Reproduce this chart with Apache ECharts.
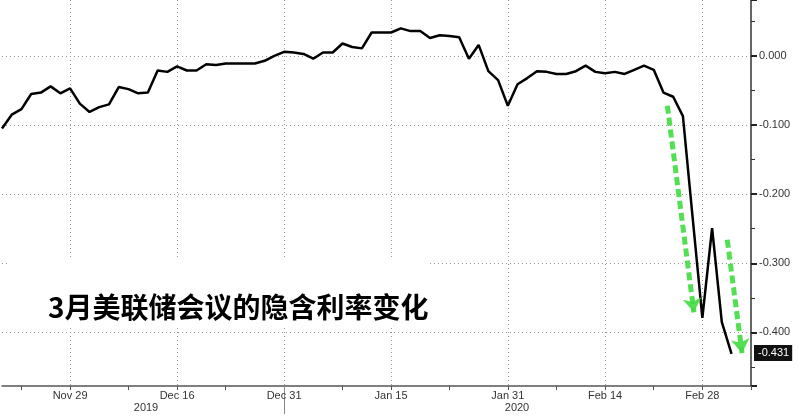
<!DOCTYPE html>
<html>
<head>
<meta charset="utf-8">
<script src="https://cdn.jsdelivr.net/npm/echarts@6/dist/echarts.min.js"></script>
<style>
html,body{margin:0;padding:0;background:#fff;}
#chart{width:800px;height:416px;}
</style>
</head>
<body>
<div id="chart"></div>
<script>
// Weekday categories (Nov 20, 2019 – Mar 6, 2020)
const dates = [
  "Nov 20","Nov 21","Nov 22","Nov 25","Nov 26","Nov 27","Nov 28","Nov 29",
  "Dec 2","Dec 3","Dec 4","Dec 5","Dec 6","Dec 9","Dec 10","Dec 11","Dec 12","Dec 13",
  "Dec 16","Dec 17","Dec 18","Dec 19","Dec 20","Dec 23","Dec 24","Dec 25","Dec 26","Dec 27",
  "Dec 30","Dec 31",
  "Jan 1","Jan 2","Jan 3","Jan 6","Jan 7","Jan 8","Jan 9","Jan 10","Jan 13","Jan 14","Jan 15",
  "Jan 16","Jan 17","Jan 20","Jan 21","Jan 22","Jan 23","Jan 24","Jan 27","Jan 28","Jan 29",
  "Jan 30","Jan 31",
  "Feb 3","Feb 4","Feb 5","Feb 6","Feb 7","Feb 10","Feb 11","Feb 12","Feb 13","Feb 14",
  "Feb 17","Feb 18","Feb 19","Feb 20","Feb 21","Feb 24","Feb 25","Feb 26","Feb 27","Feb 28",
  "Mar 2","Mar 3","Mar 4","Mar 5","Mar 6"
];

// Implied rate change for the March FOMC meeting
const impliedChange = [
  -0.105,-0.085,-0.077,-0.055,-0.053,-0.044,-0.054,-0.047,
  -0.069,-0.081,-0.074,-0.070,-0.045,-0.048,-0.054,-0.053,-0.021,-0.023,
  -0.015,-0.021,-0.021,-0.012,-0.013,-0.011,-0.011,-0.011,-0.011,-0.007,
  0.000,0.006,
  0.005,0.003,-0.004,0.005,0.005,0.018,0.013,0.011,0.034,0.034,0.034,
  0.040,0.036,0.036,0.026,0.030,0.029,0.027,-0.004,0.016,-0.022,
  -0.035,-0.072,
  -0.041,-0.032,-0.022,-0.023,-0.026,-0.026,-0.022,-0.014,-0.023,-0.025,
  -0.023,-0.026,-0.020,-0.014,-0.020,-0.053,-0.059,-0.087,-0.234,-0.379,
  -0.249,-0.385,-0.431,null,null
];

// Axis labels / ticks
const labelDates = ["Nov 29","Dec 16","Dec 31","Jan 15","Jan 31","Feb 14","Feb 28"];
const tickDates = ["Nov 22","Nov 29","Dec 9","Dec 16","Dec 23","Dec 31","Jan 8","Jan 15",
  "Jan 23","Jan 31","Feb 7","Feb 14","Feb 21","Feb 28","Mar 6"];
const yearBreakDate = "Dec 31";
const yearLabels = ["2019","2020"];

// Green annotation arrows: [start index, start value], [end index, end value]
const arrow1 = [[68.4,-0.072],[71.13,-0.371]];
const arrow2 = [[74.56,-0.266],[76.08,-0.430]];

const lastValue = impliedChange.filter(v => v !== null).slice(-1)[0];

const chart = echarts.init(document.getElementById('chart'), null, {renderer:'canvas'});
const font = '"Liberation Sans", Arial, sans-serif';

chart.setOption({
  animation:false,
  backgroundColor:'#ffffff',
  grid:{left:2,right:49,top:0,bottom:30},
  xAxis:[
    {
      type:'category', data:dates, boundaryGap:false, position:'bottom',
      axisLine:{show:true,onZero:false,lineStyle:{color:'#555',width:1.5}},
      axisTick:{show:true,length:4,lineStyle:{color:'#555'},
        interval:(i,v)=>tickDates.includes(v)},
      axisLabel:{interval:(i,v)=>labelDates.includes(v),color:'#333',fontSize:11,
        fontFamily:font,margin:4},
      splitLine:{show:true,interval:(i,v)=>labelDates.includes(v),
        lineStyle:{color:'#999',type:[1,3],width:1}}
    },
    {
      type:'category', data:dates, boundaryGap:false, position:'bottom',
      axisLine:{show:false,onZero:false},
      axisTick:{show:true,length:28,lineStyle:{color:'#888'},
        interval:(i,v)=>v===yearBreakDate},
      axisLabel:{show:false}, splitLine:{show:false}
    },
    {
      type:'value', min:0, max:dates.length-1, show:false,
      axisLine:{onZero:false}
    }
  ],
  yAxis:{
    type:'value', position:'right', min:-0.4776, max:0.081, splitNumber:5,
    axisLine:{show:true,onZero:false,lineStyle:{color:'#333',width:1.5}},
    axisTick:{show:true,length:6,lineStyle:{color:'#222',width:2}},
    minorTick:{show:true,splitNumber:2,length:4,lineStyle:{color:'#333'}},
    axisLabel:{color:'#333',fontSize:11,fontFamily:font,margin:8,
      showMinLabel:false,showMaxLabel:false,
      formatter:v=>v.toFixed(3)},
    splitLine:{show:true,showMinLine:false,showMaxLine:false,
      lineStyle:{color:'#999',type:[1,3],width:1}}
  },
  series:[
    {
      type:'line', data:impliedChange, xAxisIndex:0, yAxisIndex:0,
      symbol:'none', smooth:false,
      lineStyle:{color:'#000',width:2.5},
      markLine:{
        silent:true, symbol:['none','none'],
        lineStyle:{color:'rgba(0,0,0,0)',width:0.01,type:'solid'},
        label:{show:true,position:'end',distance:3,
          formatter:()=>lastValue.toFixed(3),
          backgroundColor:'#111',color:'#fff',fontSize:11,fontFamily:font,
          padding:[3,3,2,4]},
        data:[{yAxis:lastValue}]
      },
      z:3
    },
    {
      type:'lines', coordinateSystem:'cartesian2d', xAxisIndex:2, yAxisIndex:0,
      symbol:['none','arrow'], symbolSize:[13,14],
      lineStyle:{color:'#3fdc3f',width:5,type:[8,4],opacity:0.9,curveness:0},
      data:[{coords:arrow1},{coords:arrow2}],
      z:4
    }
  ],
  graphic:[
    {type:'rect', z:100, shape:{x:10,y:257,width:417,height:71}, style:{fill:'#fff'}},
    {type:'text', z:101, x:48, y:307, style:{text:'3月美联储会议的隐含利率变化',
      fill:'#000', font:'bold 28px "Noto Sans CJK SC"', verticalAlign:'middle'}},
    {type:'text', z:101, x:146, y:408, style:{text:yearLabels[0],fill:'#333',
      font:'11px "Liberation Sans", Arial', align:'center', verticalAlign:'middle'}},
    {type:'text', z:101, x:517, y:408, style:{text:yearLabels[1],fill:'#333',
      font:'11px "Liberation Sans", Arial', align:'center', verticalAlign:'middle'}}
  ]
});
</script>
</body>
</html>
